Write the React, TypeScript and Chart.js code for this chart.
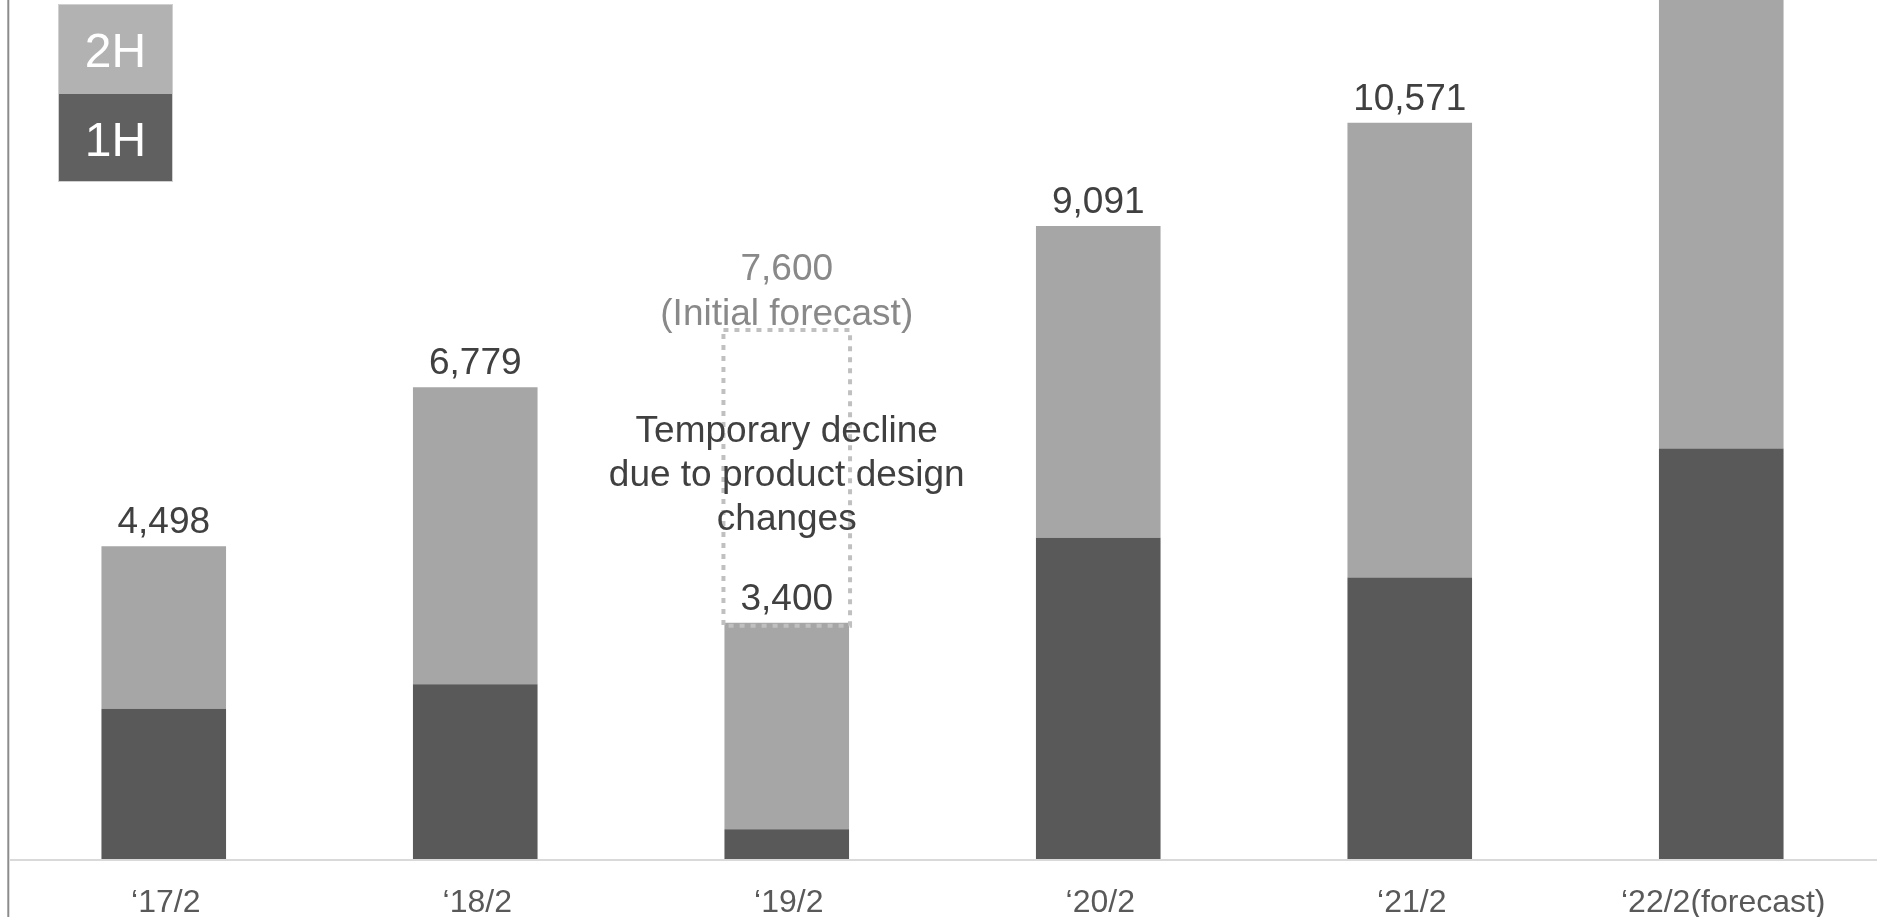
import React, { useEffect, useRef } from "react";
import { Chart, registerables } from "chart.js";

Chart.register(...registerables);

// Fiscal periods on the x axis
const categories = ["‘17/2", "‘18/2", "‘19/2", "‘20/2", "‘21/2", "‘22/2(forecast)"];
// Full-year totals (the label above each bar)
const totals = [4498, 6779, 3400, 9091, 10571, 13000];
// First-half portion of each year
const firstHalf = [2170, 2520, 440, 4620, 4050, 5900];
// Second-half portion = total minus first half
const secondHalf = totals.map((t, i) => t - firstHalf[i]);
// Which totals get a printed label (the forecast bar runs off the top)
const showTotal = [true, true, true, true, true, false];

// Original plan for FY'19/2, drawn as a dotted outline
const initialForecast = 7600;
const forecastIndex = 2;
const forecastLines = ["7,600", "(Initial forecast)"];
const noteLines = ["Temporary decline", "due to product design", "changes"];

const legendItems = ["2H", "1H"];

const Y_MAX = 12330;
const FONT = "'Liberation Sans', Arial, sans-serif";

const COLOR_1H = "#595959";
const COLOR_2H = "#a6a6a6";

const fmt = (v: number) => v.toLocaleString("en-US");

const overlayPlugin = {
  id: "overlay",
  afterDatasetsDraw(chart: any) {
    const { ctx, chartArea, scales } = chart;
    const x = scales.x;
    const y = scales.y;
    const topMeta = chart.getDatasetMeta(1);

    ctx.save();

    // x-axis baseline
    const base = y.getPixelForValue(0);
    ctx.strokeStyle = "#d9d9d9";
    ctx.lineWidth = 2;
    ctx.beginPath();
    ctx.moveTo(chartArea.left + 2, base);
    ctx.lineTo(chartArea.right, base);
    ctx.stroke();

    // left frame line running the full height
    ctx.strokeStyle = "#8c8c8c";
    ctx.lineWidth = 2;
    ctx.beginPath();
    ctx.moveTo(8.3, 0);
    ctx.lineTo(8.3, chart.height);
    ctx.stroke();

    // dotted outline of the initial forecast
    const bar = topMeta.data[forecastIndex];
    const half = bar.width / 2 + 1;
    const boxTop = y.getPixelForValue(initialForecast);
    const boxBottom = y.getPixelForValue(totals[forecastIndex]) + 3;
    ctx.strokeStyle = "#c0c0c0";
    ctx.lineWidth = 4;
    ctx.setLineDash([5, 6]);
    ctx.strokeRect(bar.x - half, boxTop, half * 2, boxBottom - boxTop);
    ctx.setLineDash([]);

    ctx.textAlign = "center";
    ctx.textBaseline = "middle";

    // initial forecast caption
    ctx.font = `37px ${FONT}`;
    ctx.fillStyle = "#898989";
    forecastLines.forEach((line, i) => {
      ctx.fillText(line, bar.x, boxTop - 60 + i * 45);
    });

    // explanatory note inside the outline
    ctx.fillStyle = "#404040";
    const mid = (boxTop + boxBottom) / 2 - 2;
    noteLines.forEach((line, i) => {
      ctx.fillText(line, bar.x, mid + (i - 1) * 44);
    });

    // totals above each bar
    topMeta.data.forEach((el: any, i: number) => {
      if (!showTotal[i]) return;
      ctx.fillText(fmt(totals[i]), el.x, el.y - 23);
    });

    // category labels under the axis
    ctx.font = `32px ${FONT}`;
    ctx.fillStyle = "#595959";
    categories.forEach((c, i) => {
      ctx.fillText(c, x.getPixelForValue(i) + 2, base + 43);
    });

    // legend block, top left
    const lx = 58;
    const lw = 115;
    const rows = [
      { top: 4, h: 90, color: "#b2b2b2" },
      { top: 94, h: 88, color: "#606060" },
    ];
    rows.forEach((r, i) => {
      ctx.fillStyle = r.color;
      ctx.fillRect(lx, r.top, lw, r.h);
      ctx.fillStyle = "#ffffff";
      ctx.font = `48px ${FONT}`;
      ctx.fillText(legendItems[i], lx + lw / 2, r.top + r.h / 2 + 5);
    });
    ctx.strokeStyle = "#d0d0d0";
    ctx.lineWidth = 1;
    ctx.strokeRect(lx + 0.5, 4.5, lw - 1, 177);

    ctx.restore();
  },
};

export default function App() {
  const canvasRef = useRef<HTMLCanvasElement | null>(null);

  useEffect(() => {
    const canvas = canvasRef.current;
    if (!canvas) return;
    const chart = new Chart(canvas, {
      type: "bar",
      data: {
        labels: categories,
        datasets: [
          {
            label: "1H",
            data: firstHalf,
            backgroundColor: COLOR_1H,
            borderWidth: 0,
          },
          {
            label: "2H",
            data: secondHalf,
            backgroundColor: COLOR_2H,
            borderWidth: 0,
          },
        ],
      },
      options: {
        animation: false,
        responsive: false,
        maintainAspectRatio: false,
        devicePixelRatio: 1,
        layout: { padding: { left: 8, right: 6, top: 0, bottom: 57 } },
        datasets: {
          bar: { categoryPercentage: 1, barPercentage: 0.4 },
        },
        scales: {
          x: { stacked: true, display: false },
          y: { stacked: true, display: false, min: 0, max: Y_MAX },
        },
        plugins: {
          legend: { display: false },
          tooltip: { enabled: false },
          title: { display: false },
        },
      },
      plugins: [overlayPlugin],
    });
    return () => chart.destroy();
  }, []);

  return (
    <div
      style={{
        position: "fixed",
        left: 0,
        top: 0,
        width: 1883,
        height: 917,
        background: "#ffffff",
      }}
    >
      <canvas ref={canvasRef} width={1883} height={917} style={{ width: 1883, height: 917 }} />
    </div>
  );
}
